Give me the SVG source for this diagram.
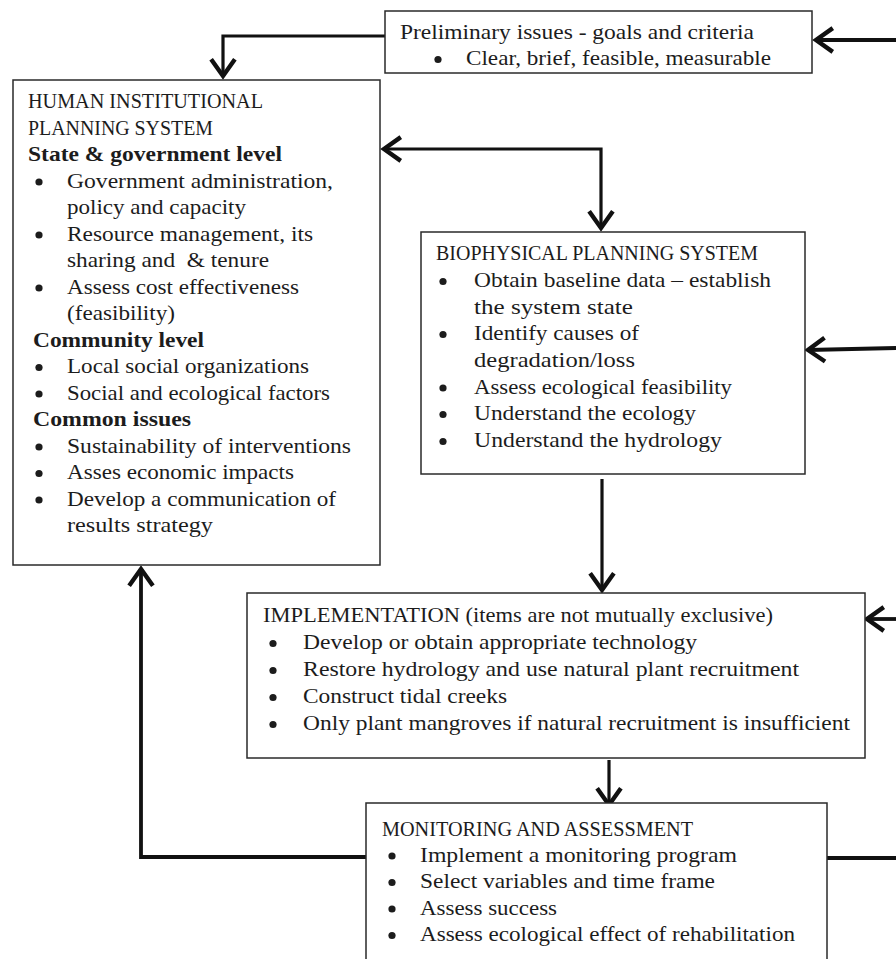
<svg xmlns="http://www.w3.org/2000/svg" width="896" height="959" viewBox="0 0 896 959">
<defs>
<marker id="arr" markerUnits="userSpaceOnUse" markerWidth="30" markerHeight="30" refX="0" refY="0" viewBox="-16 -12 20 24" orient="auto-start-reverse">
<path d="M-12,-8.5 L0,0 L-12,8.5" fill="none" stroke="#111" stroke-width="3.5" stroke-linejoin="miter" stroke-linecap="square"/>
</marker>
<style>
.box{fill:#fff;stroke:#2a2a2a;stroke-width:1.5}
.t{font-family:"Liberation Serif","Times New Roman",serif;font-size:22px;fill:#1c1c1c;white-space:pre}
.b{font-weight:bold}
.dot{fill:#1c1c1c}
.c{fill:none;stroke:#111;stroke-width:3.2;stroke-linejoin:miter}
.cw{fill:none;stroke:#111;stroke-width:3.8;stroke-linejoin:miter}
</style>
</defs>
<rect width="896" height="959" fill="#fff"/>

<g id="connectors">
<path class="c" d="M385,36 H223 V76" marker-end="url(#arr)"/>
<path class="cw" d="M896,40 H816" marker-end="url(#arr)"/>
<path class="c" d="M384,149 H601 V228" marker-start="url(#arr)" marker-end="url(#arr)"/>
<path class="cw" d="M896,348 L808,350" marker-end="url(#arr)"/>
<path class="c" d="M602,479 V590" marker-end="url(#arr)"/>
<path class="cw" d="M896,619 H867" marker-end="url(#arr)"/>
<path class="c" d="M609,760 V805" marker-end="url(#arr)"/>
<path class="cw" d="M366,857 H141 V569" marker-end="url(#arr)"/>
<path class="cw" d="M827,858 H896"/>
</g>

<g id="preliminary">
<rect class="box" x="385" y="11" width="427" height="62"/>
<text class="t" x="400" y="39" textLength="354" lengthAdjust="spacingAndGlyphs">Preliminary issues - goals and criteria</text>
<circle class="dot" cx="438" cy="59.5" r="3.6"/>
<text class="t" x="466" y="65" textLength="305" lengthAdjust="spacingAndGlyphs">Clear, brief, feasible, measurable</text>
</g>

<g id="human">
<rect class="box" x="13" y="80" width="367" height="485"/>
<text class="t" x="28" y="108" textLength="235" lengthAdjust="spacingAndGlyphs">HUMAN INSTITUTIONAL</text>
<text class="t" x="28" y="134.5" textLength="185" lengthAdjust="spacingAndGlyphs">PLANNING SYSTEM</text>
<text class="t b" x="28" y="161" textLength="254" lengthAdjust="spacingAndGlyphs">State &amp; government level</text>
<circle class="dot" cx="39" cy="182" r="3.6"/>
<text class="t" x="67" y="187.5" textLength="266" lengthAdjust="spacingAndGlyphs">Government administration,</text>
<text class="t" x="67" y="214" textLength="179" lengthAdjust="spacingAndGlyphs">policy and capacity</text>
<circle class="dot" cx="39" cy="235" r="3.6"/>
<text class="t" x="67" y="240.5" textLength="246" lengthAdjust="spacingAndGlyphs">Resource management, its</text>
<text class="t" x="67" y="267" textLength="202" lengthAdjust="spacingAndGlyphs">sharing and  &amp; tenure</text>
<circle class="dot" cx="39" cy="288" r="3.6"/>
<text class="t" x="67" y="293.5" textLength="232" lengthAdjust="spacingAndGlyphs">Assess cost effectiveness</text>
<text class="t" x="67" y="320" textLength="108" lengthAdjust="spacingAndGlyphs">(feasibility)</text>
<text class="t b" x="33" y="346.5" textLength="171" lengthAdjust="spacingAndGlyphs">Community level</text>
<circle class="dot" cx="39" cy="367.5" r="3.6"/>
<text class="t" x="67" y="373" textLength="242" lengthAdjust="spacingAndGlyphs">Local social organizations</text>
<circle class="dot" cx="39" cy="394" r="3.6"/>
<text class="t" x="67" y="399.5" textLength="263" lengthAdjust="spacingAndGlyphs">Social and ecological factors</text>
<text class="t b" x="33" y="426" textLength="158" lengthAdjust="spacingAndGlyphs">Common issues</text>
<circle class="dot" cx="39" cy="447" r="3.6"/>
<text class="t" x="67" y="452.5" textLength="284" lengthAdjust="spacingAndGlyphs">Sustainability of interventions</text>
<circle class="dot" cx="39" cy="473.5" r="3.6"/>
<text class="t" x="67" y="479" textLength="227" lengthAdjust="spacingAndGlyphs">Asses economic impacts</text>
<circle class="dot" cx="39" cy="500" r="3.6"/>
<text class="t" x="67" y="505.5" textLength="269" lengthAdjust="spacingAndGlyphs">Develop a communication of</text>
<text class="t" x="67" y="532" textLength="146" lengthAdjust="spacingAndGlyphs">results strategy</text>
</g>

<g id="biophysical">
<rect class="box" x="421" y="232" width="384" height="242"/>
<text class="t" x="436" y="260" textLength="322" lengthAdjust="spacingAndGlyphs">BIOPHYSICAL PLANNING SYSTEM</text>
<circle class="dot" cx="443" cy="281.5" r="3.6"/>
<text class="t" x="474" y="287" textLength="297" lengthAdjust="spacingAndGlyphs">Obtain baseline data – establish</text>
<text class="t" x="474" y="313.5" textLength="159" lengthAdjust="spacingAndGlyphs">the system state</text>
<circle class="dot" cx="443" cy="334.5" r="3.6"/>
<text class="t" x="474" y="340" textLength="165" lengthAdjust="spacingAndGlyphs">Identify causes of</text>
<text class="t" x="474" y="367" textLength="161" lengthAdjust="spacingAndGlyphs">degradation/loss</text>
<circle class="dot" cx="443" cy="388" r="3.6"/>
<text class="t" x="474" y="393.5" textLength="258" lengthAdjust="spacingAndGlyphs">Assess ecological feasibility</text>
<circle class="dot" cx="443" cy="414.5" r="3.6"/>
<text class="t" x="474" y="420" textLength="222" lengthAdjust="spacingAndGlyphs">Understand the ecology</text>
<circle class="dot" cx="443" cy="441.5" r="3.6"/>
<text class="t" x="474" y="447" textLength="248" lengthAdjust="spacingAndGlyphs">Understand the hydrology</text>
</g>

<g id="implementation">
<rect class="box" x="247" y="593" width="618" height="165"/>
<text class="t" x="263" y="622" textLength="510" lengthAdjust="spacingAndGlyphs">IMPLEMENTATION (items are not mutually exclusive)</text>
<circle class="dot" cx="273" cy="643.5" r="3.6"/>
<text class="t" x="303" y="649" textLength="394" lengthAdjust="spacingAndGlyphs">Develop or obtain appropriate technology</text>
<circle class="dot" cx="273" cy="670.5" r="3.6"/>
<text class="t" x="303" y="676" textLength="496" lengthAdjust="spacingAndGlyphs">Restore hydrology and use natural plant recruitment</text>
<circle class="dot" cx="273" cy="697.5" r="3.6"/>
<text class="t" x="303" y="703" textLength="204" lengthAdjust="spacingAndGlyphs">Construct tidal creeks</text>
<circle class="dot" cx="273" cy="724.5" r="3.6"/>
<text class="t" x="303" y="730" textLength="547" lengthAdjust="spacingAndGlyphs">Only plant mangroves if natural recruitment is insufficient</text>
</g>

<g id="monitoring">
<rect class="box" x="366" y="803" width="461" height="170"/>
<text class="t" x="382" y="836" textLength="311" lengthAdjust="spacingAndGlyphs">MONITORING AND ASSESSMENT</text>
<circle class="dot" cx="392" cy="856" r="3.6"/>
<text class="t" x="420" y="861.5" textLength="317" lengthAdjust="spacingAndGlyphs">Implement a monitoring program</text>
<circle class="dot" cx="392" cy="882.5" r="3.6"/>
<text class="t" x="420" y="888" textLength="295" lengthAdjust="spacingAndGlyphs">Select variables and time frame</text>
<circle class="dot" cx="392" cy="909" r="3.6"/>
<text class="t" x="420" y="914.5" textLength="137" lengthAdjust="spacingAndGlyphs">Assess success</text>
<circle class="dot" cx="392" cy="935.5" r="3.6"/>
<text class="t" x="420" y="941" textLength="375" lengthAdjust="spacingAndGlyphs">Assess ecological effect of rehabilitation</text>
</g>
</svg>
